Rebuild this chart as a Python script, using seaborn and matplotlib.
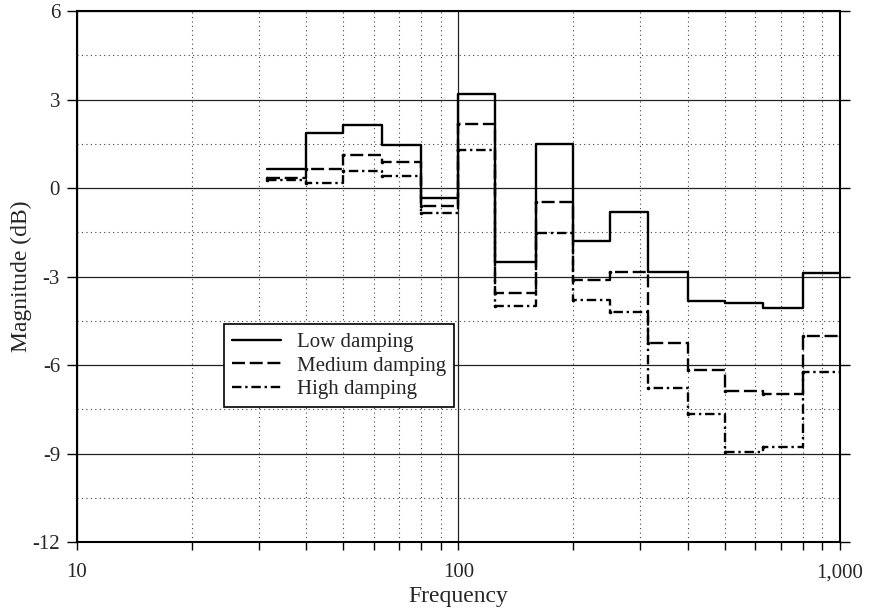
import numpy as np
import pandas as pd
import seaborn as sns
import matplotlib
matplotlib.use("Agg")
import matplotlib.pyplot as plt
from matplotlib.ticker import FixedLocator, NullFormatter

# Data: one-third octave band start frequencies and band levels (dB)
bands = [31.5, 40, 50, 63, 80, 100, 125, 160, 200, 250, 315, 400, 500, 630, 800]
end_freq = 1000
low_damping = [0.65, 1.87, 2.14, 1.46, -0.34, 3.20, -2.50, 1.48, -1.80, -0.80,
               -2.84, -3.81, -3.91, -4.06, -2.87]
medium_damping = [0.33, 0.64, 1.11, 0.87, -0.61, 2.16, -3.57, -0.46, -3.12, -2.85,
                  -5.25, -6.16, -6.88, -6.97, -5.02]
high_damping = [0.27, 0.16, 0.57, 0.40, -0.86, 1.30, -4.01, -1.53, -3.80, -4.19,
                -6.77, -7.65, -8.94, -8.77, -6.24]
series_names = ["Low damping", "Medium damping", "High damping"]
y_ticks = [6, 3, 0, -3, -6, -9, -12]
x_ticks = [10, 100, 1000]
x_tick_labels = ["10", "100", "1,000"]

sns.set_theme(style="white")
plt.rcParams["font.family"] = ["Liberation Serif", "DejaVu Serif"]
plt.rcParams["axes.unicode_minus"] = False

fig = plt.figure(figsize=(8.72, 6.10), dpi=100)
ax = fig.add_axes([0.088, 0.111, 0.875, 0.871])

freqs = bands + [end_freq]
styles = {
    "Low damping": dict(dashes=None, marker=False),
    "Medium damping": dict(dashes=(5.5, 2.0), marker=True),
    "High damping": dict(dashes=(4.0, 1.6, 1.0, 1.6), marker=True),
}
for name, vals in zip(series_names, [low_damping, medium_damping, high_damping]):
    df = pd.DataFrame({"Frequency": freqs, "Magnitude": vals + [vals[-1]]})
    st = styles[name]
    sns.lineplot(data=df, x="Frequency", y="Magnitude", ax=ax, color="black",
                 linewidth=1.7, drawstyle="steps-post", label=name, sort=False)
    l = ax.get_lines()[-1]
    if st["dashes"] is not None:
        l.set_dashes(st["dashes"])
    if st["marker"]:
        l.set_marker("o")
        l.set_markersize(2.6)
        l.set_markerfacecolor("black")
        l.set_markeredgewidth(0)

ax.set_xscale("log")
ax.set_xlim(10, 1000)
ax.set_ylim(-12, 6)

ax.xaxis.set_major_locator(FixedLocator(x_ticks))
ax.set_xticklabels(x_tick_labels)
minor_x = [m * d for d in (10, 100) for m in range(2, 10)]
ax.xaxis.set_minor_locator(FixedLocator(minor_x))
ax.xaxis.set_minor_formatter(NullFormatter())
ax.set_yticks(y_ticks)
ax.set_yticklabels([str(v) for v in y_ticks])
ax.yaxis.set_minor_locator(FixedLocator([4.5, 1.5, -1.5, -4.5, -7.5, -10.5]))

ax.grid(which="major", color="#222222", linestyle="-", linewidth=0.9)
ax.grid(which="minor", color="#444444", linestyle=(0, (1, 3)), linewidth=0.8)
ax.set_axisbelow(True)

for s in ax.spines.values():
    s.set_color("black")
    s.set_linewidth(1.5)

ax.tick_params(axis="x", which="both", direction="out", length=6, width=1,
               color="black", bottom=True, labelsize=15, pad=9)
ax.tick_params(axis="y", which="major", direction="out", length=7, width=1,
               color="black", left=True, right=True, labelsize=15, pad=5)
ax.tick_params(axis="y", which="minor", length=0)

ax.set_xlabel("Frequency", fontsize=17, labelpad=3)
ax.set_ylabel("Magnitude (dB)", fontsize=17, labelpad=0)

leg = ax.legend(loc="lower left", bbox_to_anchor=(0.193, 0.254), borderaxespad=0,
                fontsize=15, frameon=True, fancybox=False, framealpha=1,
                edgecolor="black", handlelength=2.36, handletextpad=0.77,
                borderpad=0.38, labelspacing=0.2)
leg.get_frame().set_linewidth(1.2)
for h in leg.get_lines():
    h.set_marker("")

fig.savefig("out.png", dpi=100)
